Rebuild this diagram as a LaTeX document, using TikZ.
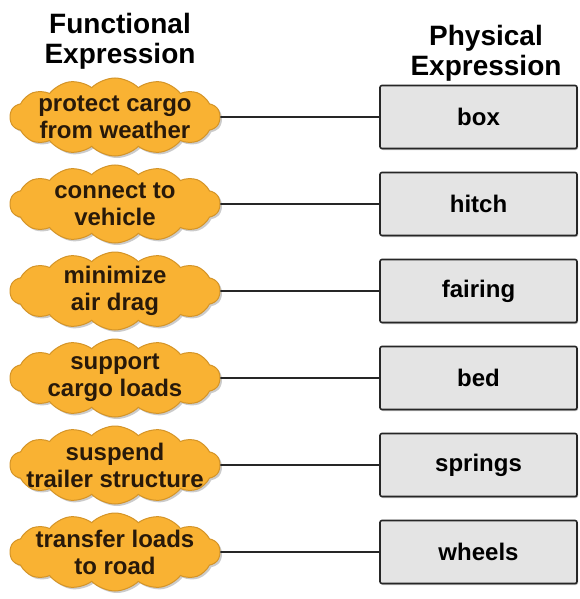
\documentclass[tikz,border=0pt]{standalone}
\usepackage{fontspec}
\setmainfont{Liberation Sans}
\usetikzlibrary{shapes.symbols}
\usetikzlibrary{shadows}
\definecolor{cloudfill}{RGB}{249, 178,  51}
\definecolor{cloudline}{RGB}{212, 148,  40}
\definecolor{cloudtext}{RGB}{ 40,  25,  10}
\definecolor{boxfill}{RGB}{228, 228, 228}

\tikzset{
	funccloud/.style={cloud, cloud puffs=14, cloud puff arc=90, aspect=3,
		minimum width=210pt, minimum height=78pt, inner sep=0pt,
		fill=cloudfill, draw=cloudline, line width=1pt,
		drop shadow={shadow xshift=2pt, shadow yshift=-2pt, fill=black!40}},
	functext/.style={align=center, text=cloudtext, inner sep=0pt,
		font=\fontsize{24}{27}\selectfont\bfseries},
	physbox/.style={rectangle, rounded corners=2pt, minimum width=197pt, minimum height=63pt,
		fill=boxfill, draw=black!85, line width=1.6pt,
		font=\fontsize{24}{27}\selectfont\bfseries,
		drop shadow={shadow xshift=1pt, shadow yshift=-1.5pt, fill=black!50}},
	headtext/.style={align=center, inner sep=0pt,
		font=\fontsize{28}{30}\selectfont\bfseries},
	link/.style={line width=1.8pt, black!85}
}

\begin{document}
\begin{tikzpicture}[x=1pt, y=-1pt]
	\useasboundingbox[fill=white] (0, 0) rectangle (580, 599);

	% column heads
	\node[headtext] (funchead) at (120, 41) {Functional\\Expression};
	\node[headtext] (physhead) at (486, 53) {Physical\\Expression};

	% functions, forms and links
	\foreach \i/\y/\func/\phys in {
		1/117/{protect cargo\\from weather}/box,
		2/204/{connect to\\vehicle}/hitch,
		3/291/{minimize\\air drag}/fairing,
		4/378/{support\\cargo loads}/bed,
		5/465/{suspend\\trailer structure}/springs,
		6/552/{transfer loads\\to road}/wheels
	}{
		\node[funccloud] (c\i) at (115, \y) {};
		\node[functext] (f\i) at (c\i) {\func};
		\node[physbox] (p\i) at (478.5, \y) {\phys};
		\draw[link] (c\i.east) -- (p\i.west);
	}
\end{tikzpicture}
\end{document}
